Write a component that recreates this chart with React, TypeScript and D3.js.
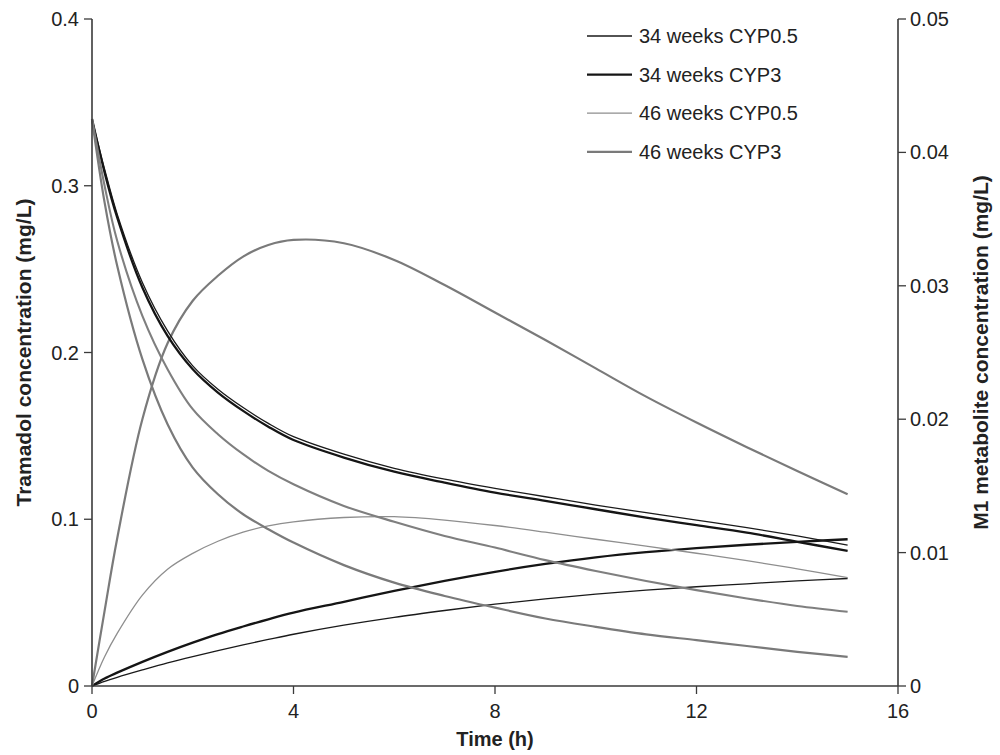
import React from "react";
import * as d3 from "d3";

const times = [0, 0.25, 0.5, 1, 1.5, 2, 2.5, 3, 3.5, 4, 5, 6, 7, 8, 9, 10, 11, 12, 13, 14, 15];

// Tramadol concentration (mg/L), left axis
const tram34Cyp05 = [0.34, 0.31, 0.283, 0.242, 0.213, 0.192, 0.178, 0.167, 0.1575, 0.1495, 0.139, 0.1305, 0.124, 0.1185, 0.1135, 0.1085, 0.104, 0.0995, 0.095, 0.09, 0.0845];
const tram34Cyp3 = [0.34, 0.308, 0.281, 0.239, 0.21, 0.19, 0.176, 0.165, 0.1555, 0.1475, 0.137, 0.1285, 0.122, 0.116, 0.111, 0.106, 0.101, 0.0965, 0.092, 0.0865, 0.081];
const tram46Cyp05 = [0.34, 0.3, 0.267, 0.222, 0.19, 0.166, 0.151, 0.139, 0.129, 0.121, 0.108, 0.0985, 0.09, 0.083, 0.0755, 0.069, 0.063, 0.0575, 0.0525, 0.048, 0.0445];
const tram46Cyp3 = [0.34, 0.29, 0.252, 0.196, 0.157, 0.131, 0.115, 0.103, 0.094, 0.086, 0.0725, 0.062, 0.054, 0.047, 0.0405, 0.0355, 0.031, 0.0275, 0.024, 0.0205, 0.0175];

// M1 metabolite concentration (mg/L), right axis
const m1_34Cyp05 = [0, 0.00035, 0.00065, 0.0012, 0.00173, 0.00221, 0.00266, 0.00309, 0.00349, 0.00388, 0.00456, 0.00515, 0.00566, 0.00613, 0.00653, 0.00688, 0.00718, 0.00744, 0.00766, 0.00788, 0.00806];
const m1_34Cyp3 = [0, 0.00056, 0.001, 0.00181, 0.00256, 0.00325, 0.00389, 0.00446, 0.005, 0.0055, 0.00631, 0.00713, 0.00788, 0.00856, 0.00915, 0.00965, 0.01004, 0.01034, 0.01059, 0.01081, 0.011];
const m1_46Cyp05 = [0, 0.00219, 0.00394, 0.00681, 0.00875, 0.00994, 0.01085, 0.01153, 0.012, 0.01231, 0.01263, 0.01269, 0.01244, 0.01203, 0.01153, 0.011, 0.01048, 0.00995, 0.0094, 0.00878, 0.00813];
const m1_46Cyp3 = [0, 0.00563, 0.01106, 0.02, 0.02569, 0.02888, 0.03075, 0.03219, 0.03306, 0.03344, 0.03319, 0.03194, 0.03006, 0.028, 0.02594, 0.02381, 0.02169, 0.01975, 0.0179, 0.01611, 0.01438];

const seriesNames = ["34 weeks CYP0.5", "34 weeks CYP3", "46 weeks CYP0.5", "46 weeks CYP3"];

const xTicks = [0, 4, 8, 12, 16];
const leftTicks = [0, 0.1, 0.2, 0.3, 0.4];
const rightTicks = [0, 0.01, 0.02, 0.03, 0.04, 0.05];

const W = 1000;
const H = 755;
const L = 92, R = 898, T = 19, B = 686;
const FONT = "'Liberation Sans', Arial, Helvetica, sans-serif";
const AXIS = "#3a3a3a";

const styles = [
  { color: "#1a1a1a", width: 1.3 },
  { color: "#151515", width: 2.3 },
  { color: "#8e8e8e", width: 1.3 },
  { color: "#7a7a7a", width: 2.2 },
];
const tramStyles = [
  styles[0],
  styles[1],
  { color: "#7f7f7f", width: 2.1 },
  styles[3],
];

export default function App() {
  const x = d3.scaleLinear().domain([0, 16]).range([L, R]);
  const yL = d3.scaleLinear().domain([0, 0.4]).range([B, T]);
  const yR = d3.scaleLinear().domain([0, 0.05]).range([B, T]);

  const tram = [tram34Cyp05, tram34Cyp3, tram46Cyp05, tram46Cyp3];
  const m1 = [m1_34Cyp05, m1_34Cyp3, m1_46Cyp05, m1_46Cyp3];

  const curve = d3.curveCatmullRom.alpha(0.5);
  const lineL = d3.line<number>().x((_, i) => x(times[i])).y((d) => yL(d)).curve(curve);
  const lineR = d3.line<number>().x((_, i) => x(times[i])).y((d) => yR(d)).curve(curve);

  const legendX1 = 587, legendX2 = 632, legendY0 = 36, legendDy = 38.6;

  return (
    <svg width={W} height={H} style={{ position: "absolute", left: 0, top: 0, background: "#fff" }} fontFamily={FONT}>
      {/* lines */}
      {m1.map((s, i) => (
        <path key={"m" + i} d={lineR(s) || ""} fill="none" stroke={styles[i].color} strokeWidth={styles[i].width} />
      ))}
      {tram.map((s, i) => (
        <path key={"t" + i} d={lineL(s) || ""} fill="none" stroke={tramStyles[i].color} strokeWidth={tramStyles[i].width} />
      ))}

      {/* x axis */}
      <line x1={L} x2={R} y1={B} y2={B} stroke={AXIS} strokeWidth={1.6} />
      {xTicks.map((t) => (
        <g key={"xt" + t}>
          <line x1={x(t)} x2={x(t)} y1={B} y2={B + 8} stroke={AXIS} strokeWidth={1.3} />
          <text x={x(t)} y={B + 32} textAnchor="middle" fontSize={20} fill="#222">{t}</text>
        </g>
      ))}
      <text x={(L + R) / 2} y={746} textAnchor="middle" fontSize={20} fontWeight="bold" fill="#222">Time (h)</text>

      {/* left axis */}
      <line x1={L} x2={L} y1={T} y2={B} stroke={AXIS} strokeWidth={1.6} />
      {leftTicks.map((v) => (
        <g key={"lt" + v}>
          <line x1={L - 8} x2={L} y1={yL(v)} y2={yL(v)} stroke={AXIS} strokeWidth={1.3} />
          <text x={L - 13} y={yL(v) + 7} textAnchor="end" fontSize={20} fill="#222">{d3.format("")(v)}</text>
        </g>
      ))}
      <text transform={`translate(31,${(T + B) / 2}) rotate(-90)`} textAnchor="middle" fontSize={21} fontWeight="bold" fill="#222">Tramadol concentration (mg/L)</text>

      {/* right axis */}
      <line x1={R} x2={R} y1={T} y2={B} stroke={AXIS} strokeWidth={1.6} />
      {rightTicks.map((v) => (
        <g key={"rt" + v}>
          <line x1={R} x2={R + 8} y1={yR(v)} y2={yR(v)} stroke={AXIS} strokeWidth={1.3} />
          <text x={R + 12} y={yR(v) + 7} textAnchor="start" fontSize={20} fill="#222">{d3.format("")(v)}</text>
        </g>
      ))}
      <text transform={`translate(988,${(T + B) / 2}) rotate(-90)`} textAnchor="middle" fontSize={21} fontWeight="bold" fill="#222">M1 metabolite concentration (mg/L)</text>

      {/* legend */}
      {seriesNames.map((n, i) => (
        <g key={"lg" + i}>
          <line x1={legendX1} x2={legendX2} y1={legendY0 + i * legendDy} y2={legendY0 + i * legendDy} stroke={styles[i].color} strokeWidth={styles[i].width} />
          <text x={639} y={legendY0 + i * legendDy + 7} fontSize={20} fill="#222">{n}</text>
        </g>
      ))}
    </svg>
  );
}
